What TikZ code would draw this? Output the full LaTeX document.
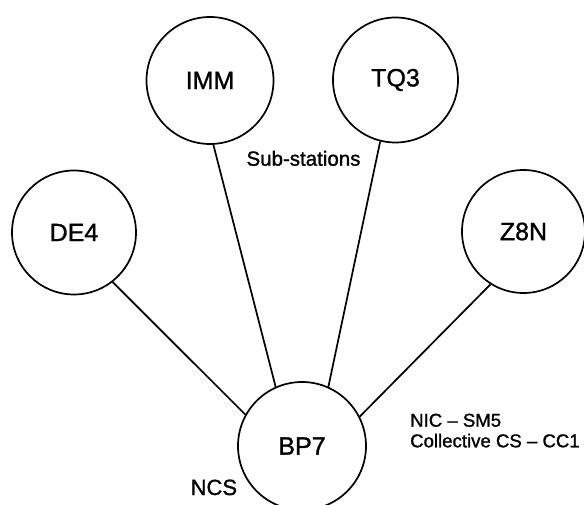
\documentclass[tikz,border=0pt]{standalone}
\usepackage{fontspec}
\setmainfont{Liberation Sans}[FakeBold=1.2]
\begin{document}
\begin{tikzpicture}[x=1pt,y=1pt,
  station/.style={draw, circle, line width=1.7pt, inner sep=0pt, font=\fontsize{25}{30}\selectfont},
  link/.style={line width=1.7pt},
  note/.style={inner sep=0pt, font=\fontsize{18.6}{21}\selectfont}]
\useasboundingbox (0,0) rectangle (584,504);
% sub-stations around the central station
\node[station, minimum size=127pt] (imm) at (210,423.5) {IMM};
\node[station, minimum size=125pt] (tq3) at (395.5,424) {TQ3};
\node[station, minimum size=124pt] (de4) at (74,271.5) {DE4};
\node[station, minimum size=123pt] (z8n) at (523.5,272.5) {Z8N};
\node[station, minimum size=128pt] (bp7) at (302,58) {BP7};
% connections to BP7
\draw[link] (de4.-52.5) -- (bp7.151);
\draw[link] (imm.273) -- (bp7.114);
\draw[link] (tq3.256) -- (bp7.66);
\draw[link] (z8n.238.8) -- (bp7.27);
% labels
\node[note, anchor=base, font=\fontsize{20.5}{24}\selectfont] (sub) at (303.5,338.3) {Sub-stations};
\node[note, anchor=base west] (nic) at (410,77.3) {NIC -- SM5};
\node[note, anchor=base west] (coll) at (410,56.7) {Collective CS -- CC1};
\node[note, anchor=base east, font=\fontsize{22}{24}\selectfont] (ncs) at (237.3,9) {NCS};
\end{tikzpicture}
\end{document}
